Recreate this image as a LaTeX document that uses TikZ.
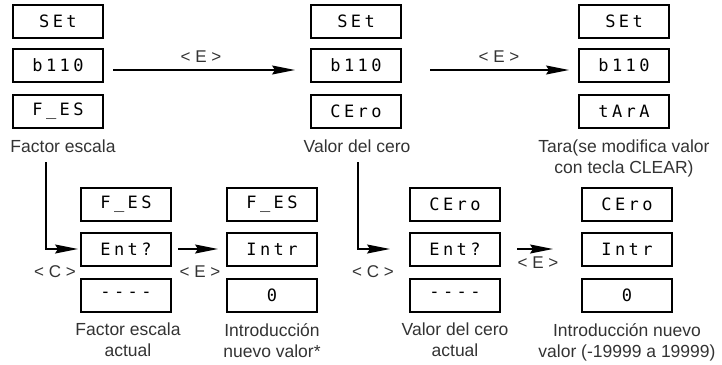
\documentclass[tikz,border=0pt]{standalone}
\usepackage{fontspec}
\setmainfont{Liberation Sans}
\newfontfamily\segfont[LetterSpace=20]{DejaVu Sans Mono}
\usetikzlibrary{arrows.meta}
\definecolor{txt}{gray}{0.2}
\tikzset{
  disp/.style={draw=black, line width=2pt, minimum width=90pt, minimum height=33pt,
    inner sep=0pt, font=\segfont\fontsize{17}{17}\selectfont},
  lbl/.style={text=txt, align=center, inner sep=0pt, anchor=north,
    font=\fontsize{17.5}{21}\selectfont},
  key/.style={text=txt, inner sep=0pt, font=\fontsize{17}{17}\selectfont},
  conn/.style={line width=1.1pt, -{Stealth[length=23pt,width=9pt,inset=3pt]}}
}
\begin{document}
\begin{tikzpicture}[x=1pt,y=-1pt]
\useasboundingbox (0,0) rectangle (722,364);
% top row, column 1
\node[disp] (s1) at (58,21) {SEt};
\node[disp] (b1) at (58,65.5) {b110};
\node[disp] (f1) at (58,111.5) {F\_ES};
\node[lbl] (lf1) at (63,140) {Factor escala};
% column 2
\node[disp] (s2) at (356,21) {SEt};
\node[disp] (b2) at (356,65.5) {b110};
\node[disp] (c2) at (356,111.5) {CEro};
\node[lbl] (lc2) at (357,140) {Valor del cero};
% column 3
\node[disp] (s3) at (624,21) {SEt};
\node[disp] (b3) at (624,65.5) {b110};
\node[disp] (t3) at (624,111.5) {tArA};
\node[lbl] (lt3) at (624,140) {Tara(se modifica valor\\con tecla CLEAR)};
% top arrows
\coordinate (a1s) at (113,70);
\coordinate (a1e) at (295,70);
\draw[conn] (a1s) -- (a1e);
\node[key] (k1) at (201,57) {< E >};
\coordinate (a2s) at (430,70);
\coordinate (a2e) at (569,70);
\draw[conn] (a2s) -- (a2e);
\node[key] (k2) at (499,57) {< E >};
% bottom column A
\node[disp] (fa) at (126,204) {F\_ES};
\node[disp] (ea) at (126,249) {Ent?};
\node[disp] (da) at (126,295) {----};
\node[lbl] (la) at (128,323) {Factor escala\\actual};
% column B
\node[disp] (fb) at (272,204) {F\_ES};
\node[disp] (ib) at (272,249) {Intr};
\node[disp] (zb) at (272,295) {0};
\node[lbl] (lb) at (272,323) {Introducción\\nuevo valor*};
% column C
\node[disp] (cc) at (455,204) {CEro};
\node[disp] (ec) at (455,249) {Ent?};
\node[disp] (dc) at (455,295) {----};
\node[lbl] (lc) at (455,323) {Valor del cero\\actual};
% column D
\node[disp] (cd) at (627,204) {CEro};
\node[disp] (id) at (627,249) {Intr};
\node[disp] (zd) at (627,295) {0};
\node[lbl] (ld) at (627,323) {Introducción nuevo\\valor (-19999 a 19999)};
% bottom connectors
\coordinate (v1) at (46,162);
\coordinate (v1e) at (78,249);
\draw[conn] (v1) |- (v1e);
\node[key] (k3) at (55,272) {< C >};
\coordinate (a3s) at (178,249);
\coordinate (a3e) at (218,249);
\draw[conn] (a3s) -- (a3e);
\node[key] (k4) at (200,272) {< E >};
\coordinate (v2) at (358,162);
\coordinate (v2e) at (390,249);
\draw[conn] (v2) |- (v2e);
\node[key] (k5) at (373,272) {< C >};
\coordinate (a4s) at (517,249);
\coordinate (a4e) at (553,249);
\draw[conn] (a4s) -- (a4e);
\node[key] (k6) at (538,263) {< E >};
\end{tikzpicture}
\end{document}
